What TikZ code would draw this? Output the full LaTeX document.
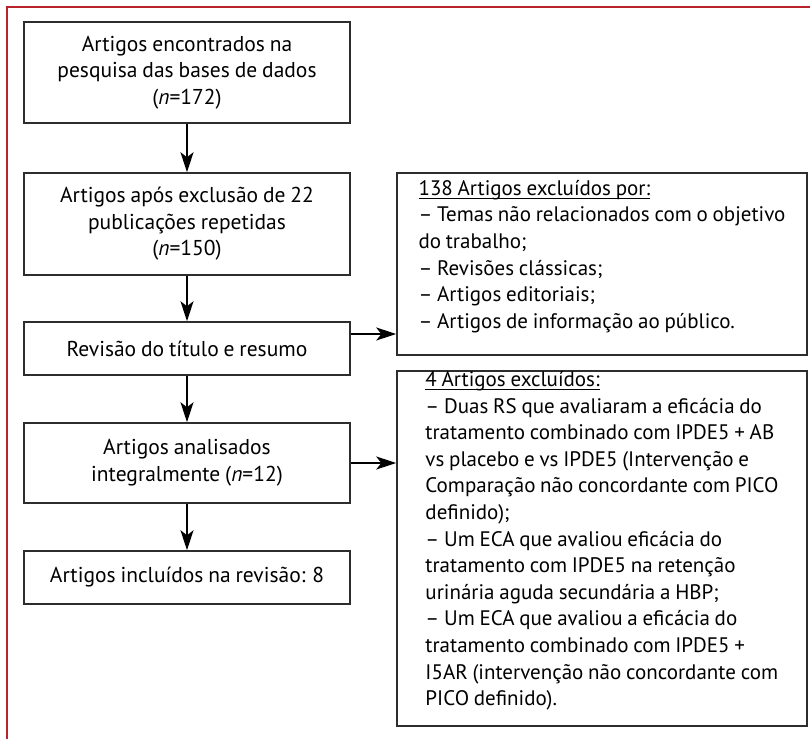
\documentclass[tikz,border=0pt]{standalone}
\usepackage{fontspec}
\setmainfont[WordSpace = 0.85]{PT Sans}
\usetikzlibrary{arrows.meta}
\newcommand\headline[1]{\underline{\smash{#1}}}
\definecolor{framered}{RGB}{185,35,45}
\definecolor{boxline}{RGB}{45,45,45}
\tikzset{
  flowbox/.style = {draw = boxline, line width = 0.75pt, align = center, minimum width = 163pt, inner sep = 0pt, font = \fontsize{10.75}{13.3}\selectfont},
  notebox/.style = {draw = boxline, line width = 0.75pt, align = left, minimum width = 205pt, inner sep = 0pt, font = \fontsize{10.5}{13.3}\selectfont},
  flowarrow/.style = {draw = black, line width = 0.75pt, -{Stealth[length = 10pt, width = 6.5pt, inset = 2.5pt]}}
}
\begin{document}
\begin{tikzpicture}[x = 1pt, y = 1pt]
\useasboundingbox (0,0) rectangle (405,-369.5);
\draw[color = framered, line width = 1pt] (3.25,-369.5) -- (3.25,-3.25) -- (405,-3.25);
% left column
\node[flowbox, minimum height = 50.5pt] (b1) at (93.5,-36.25) {Artigos encontrados na\\pesquisa das bases de dados\\(\textit{n}=172)};
\node[flowbox, minimum height = 51pt] (b2) at (93.5,-112) {Artigos após exclusão de 22\\publicações repetidas\\(\textit{n}=150)};
\node[flowbox, minimum height = 26.5pt] (b3) at (93.5,-174.25) {Revisão do título e resumo};
\node[flowbox, minimum height = 40pt] (b4) at (93.5,-231.5) {Artigos analisados\\integralmente (\textit{n}=12)};
\node[flowbox, minimum height = 26.5pt] (b5) at (93.5,-288.75) {Artigos incluídos na revisão: 8};
% right column
\node[notebox, minimum height = 91pt] (r1) at (301,-132) {\headline{138 Artigos excluídos por:}\\
– Temas não relacionados com o objetivo\\do trabalho;\\
– Revisões clássicas;\\
– Artigos editoriais;\\
– Artigos de informação ao público.};
\node[notebox, minimum height = 177.5pt] (r2) at (301,-274.25) {\headline{4 Artigos excluídos:}\\
– Duas RS que avaliaram a eficácia do\\tratamento combinado com IPDE5 + AB\\vs placebo e vs IPDE5 (Intervenção e\\Comparação não concordante com PICO\\definido);\\
– Um ECA que avaliou eficácia do\\tratamento com IPDE5 na retenção\\urinária aguda secundária a HBP;\\
– Um ECA que avaliou a eficácia do\\tratamento combinado com IPDE5 +\\I5AR (intervenção não concordante com\\PICO definido).};
\foreach \a/\b in {b1/b2, b2/b3, b3/b4, b4/b5} \draw[flowarrow] (\a) -- (\b);
\draw[flowarrow] ([yshift = 7.25pt]b3.east) -- ([yshift = 7.25pt]b3.east -| r1.west);
\draw[flowarrow] (b4.east) -- (b4.east -| r2.west);
\end{tikzpicture}
\end{document}
